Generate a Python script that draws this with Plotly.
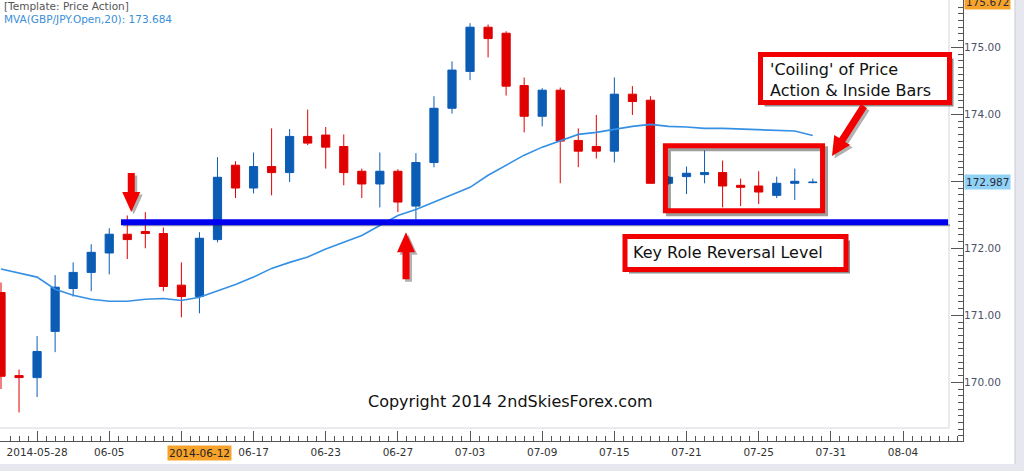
import plotly.graph_objects as go

# ---------------- data ----------------
opens = [171.34, 170.10, 170.07, 170.76, 171.40, 171.64, 171.93, 172.21, 172.25, 172.22,
         171.45, 171.28, 172.13, 173.24, 172.90, 173.22, 173.13, 173.67, 173.69, 173.52,
         173.15, 172.96, 173.15, 172.63, 173.28, 174.09, 174.64, 175.30, 175.21, 174.43,
         173.97, 174.36, 173.61, 173.52, 173.45, 174.30, 174.21, 172.97, 173.07, 173.10,
         173.13, 172.94, 172.93, 172.79, 172.97, 172.98]
highs = [171.49, 170.19, 170.69, 171.60, 171.79, 172.06, 172.30, 172.49, 172.54, 172.31,
         171.79, 172.24, 173.36, 173.30, 173.43, 173.79, 173.78, 174.07, 173.81, 173.70,
         173.19, 173.43, 173.18, 173.42, 174.27, 174.79, 175.36, 175.34, 175.24, 174.55,
         174.39, 174.40, 173.79, 173.99, 174.55, 174.42, 174.27, 173.08, 173.22, 173.46,
         173.31, 173.04, 173.15, 173.07, 173.19, 173.04]
lows = [169.90, 169.55, 169.78, 170.45, 171.28, 171.36, 171.61, 171.84, 172.00, 171.36,
        170.97, 171.03, 172.09, 172.75, 172.82, 172.79, 172.99, 173.54, 173.19, 172.94,
        172.75, 172.61, 172.54, 172.43, 173.21, 174.01, 174.51, 174.85, 174.28, 173.73,
        173.82, 172.97, 173.21, 173.34, 173.28, 173.99, 172.97, 172.95, 172.81, 172.97,
        172.61, 172.63, 172.66, 172.75, 172.72, 172.97]
closes = [170.09, 170.07, 170.46, 171.42, 171.64, 171.94, 172.21, 172.13, 172.22, 171.43,
          171.28, 172.15, 173.06, 172.90, 173.22, 173.13, 173.67, 173.57, 173.51, 173.13,
          172.96, 173.15, 172.69, 173.28, 174.09, 174.66, 175.30, 175.13, 174.42, 173.97,
          174.36, 173.60, 173.45, 173.45, 174.30, 174.19, 172.97, 173.06, 173.12, 173.13,
          172.93, 172.91, 172.84, 172.97, 173.00, 172.987]
ma20 = [171.69, 171.63, 171.57, 171.39, 171.30, 171.24, 171.21, 171.21, 171.24, 171.25,
        171.22, 171.27, 171.36, 171.46, 171.57, 171.70, 171.79, 171.87, 171.99, 172.09,
        172.19, 172.34, 172.49, 172.58, 172.69, 172.79, 172.91, 173.09, 173.24, 173.39,
        173.51, 173.61, 173.70, 173.73, 173.78, 173.82, 173.85, 173.82, 173.81, 173.79,
        173.79, 173.78, 173.78, 173.76, 173.75, 173.684]

x_tick_pos = [2, 6, 10, 14, 18, 22, 26, 30, 34, 38, 42, 46, 50]
# the label at 10 is hidden under the cursor-date label in the reference
x_tick_text = ["2014-05-28", "06-05", "", "06-17", "06-23", "06-27", "07-03",
               "07-09", "07-15", "07-21", "07-25", "07-31", "08-04"]
y_tick_vals = [170, 171, 172, 173, 174, 175]
# 173.00 is hidden under the last-price label in the reference
y_tick_text = ["170.00", "171.00", "172.00", "", "174.00", "175.00"]

key_level = 172.39
cursor_bar = 11
cursor_date = "2014-06-12"
cursor_price = 175.672
inside_first, inside_last = 37, 45

# ---------------- geometry helpers ----------------
W, H = 1024, 471
PW, PH = 963, 441
BAR_PX, X0_PX = 18.04, 1.0
UNIT_PX, REF_PRICE, REF_PX = 67.0, 175.0, 47.3

def to_px(xi, yv):
    return X0_PX + BAR_PX * xi, REF_PX + (REF_PRICE - yv) * UNIT_PX

def to_data(px, py):
    return (px - X0_PX) / BAR_PX, REF_PRICE - (py - REF_PX) / UNIT_PX

def px_paper(px, py):
    return px / PW, 1 - py / PH

xr = [to_data(0, 0)[0], to_data(PW, 0)[0]]
yr = [to_data(0, PH)[1], to_data(0, 0)[1]]

BLUE = "#0b5cb5"
RED = "#e00000"
ARROW_RED = "#f20000"
FONT = "DejaVu Sans"

def poly_path(pts):
    d = []
    for i, (px, py) in enumerate(pts):
        xd, yd = to_data(px, py)
        d.append(("M" if i == 0 else "L") + f"{xd:.4f},{yd:.4f}")
    return " ".join(d) + " Z"

def arrow_pts(tail, tip, shaft_hw, head_hw, head_len):
    import math
    dxp, dyp = tip[0] - tail[0], tip[1] - tail[1]
    L = math.hypot(dxp, dyp)
    ux, uy = dxp / L, dyp / L
    nx, ny = -uy, ux
    bx, by = tip[0] - head_len * ux, tip[1] - head_len * uy
    return [
        (tail[0] + shaft_hw * nx, tail[1] + shaft_hw * ny),
        (bx + shaft_hw * nx, by + shaft_hw * ny),
        (bx + head_hw * nx, by + head_hw * ny),
        tip,
        (bx - head_hw * nx, by - head_hw * ny),
        (bx - shaft_hw * nx, by - shaft_hw * ny),
        (tail[0] - shaft_hw * nx, tail[1] - shaft_hw * ny),
    ]

def shifted(pts, d=2.5):
    return [(x + d, y + d) for x, y in pts]

fig = go.Figure()

fig.add_trace(go.Candlestick(
    x=list(range(len(opens))), open=opens, high=highs, low=lows, close=closes,
    increasing=dict(line=dict(color=BLUE, width=1), fillcolor=BLUE),
    decreasing=dict(line=dict(color=RED, width=1), fillcolor=RED),
    whiskerwidth=0, showlegend=False, hoverinfo="skip"))

fig.add_trace(go.Scatter(
    x=list(range(len(ma20))), y=ma20, mode="lines",
    line=dict(color="#3590e4", width=1.6), showlegend=False, hoverinfo="skip"))

shapes = []
# background window strips
shapes.append(dict(type="rect", xref="paper", yref="paper",
                   x0=1015 / PW, x1=1030 / PW, y0=px_paper(0, 480)[1], y1=px_paper(0, -10)[1],
                   fillcolor="#e7e7ef", line=dict(color="#c9c9d6", width=1), layer="below"))
shapes.append(dict(type="rect", xref="paper", yref="paper",
                   x0=-0.01, x1=1030 / PW, y0=px_paper(0, 480)[1], y1=px_paper(0, 464)[1],
                   fillcolor="#e7e7ef", line=dict(width=0), layer="below"))
# inner faint frame
shapes.append(dict(type="line", xref="paper", yref="paper",
                   x0=949 / PW, x1=949 / PW, y0=px_paper(0, 428)[1], y1=1,
                   line=dict(color="#d3d7de", width=1), layer="below"))
shapes.append(dict(type="line", xref="paper", yref="paper",
                   x0=0, x1=949 / PW, y0=px_paper(0, 428)[1], y1=px_paper(0, 428)[1],
                   line=dict(color="#d3d7de", width=1), layer="below"))

# key level line (with shadow)
lx0, lx1 = 6.65, 52.5
shadow_dy = 3 / UNIT_PX
shapes.append(dict(type="line", xref="x", yref="y", x0=lx0 + 0.1, x1=lx1 + 0.1,
                   y0=key_level - shadow_dy, y1=key_level - shadow_dy,
                   line=dict(color="rgba(60,60,60,0.45)", width=2)))
shapes.append(dict(type="line", xref="x", yref="y", x0=lx0, x1=lx1,
                   y0=key_level, y1=key_level, line=dict(color="#0000f0", width=6)))

# down arrow above the first test of the level
tip_x, tip_y = to_px(7.22, highs[8])
down = [(tip_x - 3.5, tip_y - 39), (tip_x + 3.5, tip_y - 39), (tip_x + 3.5, tip_y - 20),
        (tip_x + 9, tip_y - 20), (tip_x, tip_y), (tip_x - 9, tip_y - 20), (tip_x - 3.5, tip_y - 20)]
# up arrow below the retest
ux_, uy_ = to_px(22.45, key_level - 0.15)
up = [(ux_ - 3.5, uy_ + 47), (ux_ + 3.5, uy_ + 47), (ux_ + 3.5, uy_ + 20),
      (ux_ + 9, uy_ + 20), (ux_, uy_), (ux_ - 9, uy_ + 20), (ux_ - 3.5, uy_ + 20)]
for pts in (down, up):
    shapes.append(dict(type="path", xref="x", yref="y", path=poly_path(shifted(pts)),
                       fillcolor="rgba(0,0,0,0.30)", line=dict(width=0)))
    shapes.append(dict(type="path", xref="x", yref="y", path=poly_path(pts),
                       fillcolor=ARROW_RED, line=dict(width=0)))

# box around inside bars
bx0 = inside_first - 0.17
bx1 = inside_last + 0.54
by0 = min(lows[inside_first:]) - 0.05
by1 = max(highs[inside_first:]) + 0.07
p0 = to_px(bx0, by1)
p1 = to_px(bx1, by0)
shapes.append(dict(type="rect", xref="x", yref="y",
                   x0=to_data(p0[0] + 3, 0)[0], x1=to_data(p1[0] + 3, 0)[0],
                   y0=to_data(0, p1[1] + 3)[1], y1=to_data(0, p0[1] + 3)[1],
                   line=dict(color="rgba(40,40,40,0.45)", width=5)))
shapes.append(dict(type="rect", xref="x", yref="y", x0=bx0, x1=bx1, y0=by0, y1=by1,
                   line=dict(color=ARROW_RED, width=5)))

# callout boxes (pixel geometry -> paper)
def box(x0, y0, x1, y1):
    a = px_paper(x0, y0)
    b = px_paper(x1, y1)
    shapes.append(dict(type="rect", xref="paper", yref="paper",
                       x0=(x0 + 4) / PW, x1=(x1 + 4) / PW,
                       y0=1 - (y1 + 4) / PH, y1=1 - (y0 + 4) / PH,
                       fillcolor="rgba(50,50,50,0.55)", line=dict(width=0)))
    shapes.append(dict(type="rect", xref="paper", yref="paper",
                       x0=a[0], x1=b[0], y0=b[1], y1=a[1],
                       fillcolor="white", line=dict(color=ARROW_RED, width=5)))

box(760.5, 54.5, 949.5, 102.5)
box(625, 236.5, 846, 269.5)

# diagonal arrow from the callout to the inside-bar box
diag = arrow_pts((864, 106), (832, 156), 3.5, 9.5, 19)
shapes.append(dict(type="path", xref="x", yref="y", path=poly_path(shifted(diag)),
                   fillcolor="rgba(0,0,0,0.30)", line=dict(width=0)))
shapes.append(dict(type="path", xref="x", yref="y", path=poly_path(diag),
                   fillcolor=ARROW_RED, line=dict(width=0)))

annotations = []
def ptext(text, px, py, size, color, xanchor="left", bg=None, align="left"):
    x, y = px_paper(px, py)
    d = dict(text=text, x=x, y=y, xref="paper", yref="paper", showarrow=False,
             xanchor=xanchor, yanchor="middle", align=align,
             font=dict(family=FONT, size=size, color=color))
    if bg:
        d.update(bgcolor=bg, borderpad=1)
    annotations.append(d)

ptext("[Template: Price Action]", 2, 6.5, 10.5, "#555555")
ptext(f"MVA(GBP/JPY.Open,20): {ma20[-1]:.3f}", 2, 18.5, 10.5, "#3a8fd8")
ptext("'Coiling' of Price<br>Action & Inside Bars", 768, 80, 16, "#111111")
ptext("Key Role Reversal Level", 631, 252.5, 16, "#111111")
ptext("Copyright 2014 2ndSkiesForex.com", 366, 401, 16, "#111111")

# axis highlight labels
for val, bg in ((cursor_price, "#f7a32b"), (closes[-1], "#8fd2f6")):
    annotations.append(dict(text=f"{val:.3f}", x=964 / PW, xref="paper", y=val, yref="y",
                            showarrow=False, xanchor="left", yanchor="middle",
                            font=dict(family=FONT, size=10.5, color="#2b2b3a"),
                            bgcolor=bg, borderpad=1))
annotations.append(dict(text=cursor_date, x=cursor_bar, xref="x", y=px_paper(0, 452.5)[1],
                        yref="paper", showarrow=False, xanchor="center", yanchor="middle",
                        font=dict(family=FONT, size=10.5, color="#222222"),
                        bgcolor="#f7a32b", borderpad=1))

fig.update_layout(
    width=W, height=H,
    margin=dict(l=0, r=W - PW, t=0, b=H - PH, pad=0, autoexpand=False),
    paper_bgcolor="white", plot_bgcolor="white",
    boxgap=0.35,
    shapes=shapes, annotations=annotations,
    showlegend=False, hovermode=False,
    xaxis=dict(range=xr, tickmode="array", tickvals=x_tick_pos, ticktext=x_tick_text,
               ticks="inside", ticklen=10, tickcolor="#555555", showline=True,
               linecolor="#555555", linewidth=1, showgrid=False, zeroline=False,
               automargin=False, ticklabelstandoff=1,
               rangeslider=dict(visible=False), fixedrange=True,
               tickfont=dict(family=FONT, size=10.5, color="#333333"),
               minor=dict(ticks="inside", ticklen=5, tickcolor="#555555",
                          tickmode="linear", tick0=0, dtick=0.5, showgrid=False)),
    yaxis=dict(range=yr, side="right", tickmode="array", tickvals=y_tick_vals,
               ticktext=y_tick_text, ticks="inside", ticklen=12, tickcolor="#555555",
               showline=True, linecolor="#555555", linewidth=1, showgrid=False,
               zeroline=False, fixedrange=True, automargin=False, ticklabelstandoff=-2,
               tickfont=dict(family=FONT, size=10.5, color="#4a5268"),
               minor=dict(ticks="inside", ticklen=5, tickcolor="#555555",
                          tickmode="linear", tick0=170, dtick=0.1, showgrid=False)),
)

fig.write_html("out.html", config={"displayModeBar": False},
               post_script="document.body.style.margin='0';document.body.style.padding='0';")
